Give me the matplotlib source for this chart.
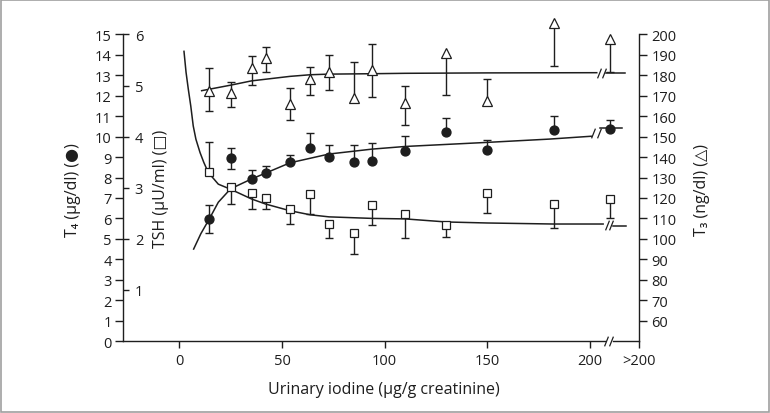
import numpy as np
import matplotlib
matplotlib.use('Agg')
import matplotlib.pyplot as plt
from matplotlib.patches import Rectangle

plt.rcParams['font.family'] = ['Open Sans', 'DejaVu Sans']
plt.rcParams['font.size'] = 10.5

INK = '#1e1e1e'

# urinary iodine groups (last group is ">200", placed after the axis break)
iodine = np.array([14.6, 25.0, 35.2, 42.1, 53.9, 63.8, 72.9, 85.2, 93.8, 110.0, 130.0, 149.7, 182.6, 209.5])

# T4 (ug/dl), filled circles
t4 = np.array([5.97, 8.94, 7.93, 8.22, 8.77, 9.44, 9.02, 8.77, 8.82, 9.31, 10.21, 9.36, 10.34, 10.37])
t4_lo = np.array([0.67, 0.52, 0, 0, 0, 0, 0, 0, 0, 0, 0, 0, 0, 0])
t4_hi = np.array([0.67, 0.49, 0.45, 0.33, 0.33, 0.72, 0.58, 0.83, 0.87, 0.70, 0.70, 0.47, 0.65, 0.46])

# TSH (uU/ml), open squares
tsh = np.array([3.30, 3.01, 2.89, 2.80, 2.58, 2.88, 2.30, 2.11, 2.67, 2.49, 2.28, 2.90, 2.69, 2.77])
tsh_lo = np.array([0, 0.33, 0.31, 0.22, 0.29, 0.39, 0.28, 0.41, 0.39, 0.47, 0.24, 0.40, 0.47, 0.37])
tsh_hi = np.array([0.59, 0, 0, 0, 0, 0, 0, 0, 0, 0, 0, 0, 0, 0])

# T3 (ng/dl), open triangles
t3 = np.array([172.5, 171.2, 183.6, 188.3, 166.0, 178.2, 181.8, 168.7, 182.7, 166.4, 190.9, 167.6, 205.4, 197.7])
t3_lo = np.array([10.1, 6.7, 8.2, 6.7, 7.9, 7.7, 9.0, 0, 13.5, 10.7, 20.7, 0, 20.7, 16.0])
t3_hi = np.array([11.2, 5.7, 6.0, 5.7, 7.8, 5.8, 8.0, 17.9, 12.6, 8.5, 0, 10.6, 0, 0])

# fitted curves
t4_fit_x = [7.0, 10.5, 14.6, 19.0, 25.0, 35.2, 42.1, 53.9, 72.9, 93.8, 110, 130, 150, 180, 200.5]
t4_fit_y = [4.50, 5.25, 5.97, 6.79, 7.45, 7.93, 8.22, 8.72, 9.15, 9.39, 9.52, 9.62, 9.72, 9.88, 10.02]
tsh_fit_x = [2.3, 3.3, 4.4, 5.6, 6.8, 8.1, 10.1, 11.9, 14.1, 19.0, 25.0, 35.2, 42.1, 53.9, 63.8,
             72.9, 93.8, 110, 130, 150, 182, 206.3]
tsh_fit_y = [5.67, 5.26, 4.93, 4.60, 4.21, 3.95, 3.69, 3.50, 3.30, 3.07, 2.97, 2.78, 2.68, 2.55, 2.47,
             2.43, 2.40, 2.39, 2.33, 2.31, 2.29, 2.29]
t3_fit_x = [10.9, 25.0, 35.2, 53.9, 63.8, 72.9, 93.8, 110, 150, 203.2]
t3_fit_y = [172.5, 175.2, 177.3, 179.5, 180.3, 180.6, 180.8, 181.0, 181.2, 181.3]

# short pieces of the curves after the break
t4_tail_x, t4_tail_y = [204.8, 215.5], [10.41, 10.41]
tsh_tail_x, tsh_tail_y = [211.1, 217.5], [2.25, 2.25]
t3_tail_x, t3_tail_y = [207.7, 217.0], [181.3, 181.3]

# break marks "//" (x positions of the two strokes)
xaxis_break = [207.9, 210.2]
t4_break = [201.5, 204.2]
tsh_break = [208.1, 210.1]
t3_break = [204.5, 206.8]

xticks = [0, 50, 100, 150, 200, 224]
xticklabels = ['0', '50', '100', '150', '200', '>200']

fig = plt.figure(figsize=(7.7, 4.14), dpi=100)
ax = fig.add_axes([0.1597, 0.1739, 0.6708, 0.7404])
ax_tsh = ax.twinx()
ax_t3 = ax.twinx()

ax.set_xlim(-27.4, 224)
ax.set_ylim(0, 15)
ax_tsh.set_ylim(0, 6)
ax_t3.set_ylim(50, 200)

for a in (ax, ax_tsh, ax_t3):
    a.patch.set_visible(False)
    for s in a.spines.values():
        s.set_visible(False)
        s.set_color(INK)
        s.set_linewidth(1.0)

ax.spines['left'].set_visible(True)
ax.spines['bottom'].set_visible(True)
ax.spines['bottom'].set_bounds(-27.4, 207.4)
ax_t3.spines['right'].set_visible(True)

ax.set_xticks(xticks)
ax.set_xticklabels(xticklabels)
ax.set_yticks(range(0, 16))
ax.tick_params(axis='x', direction='out', length=5, width=1, color=INK, pad=3.5, labelcolor=INK)
ax.tick_params(axis='y', direction='out', length=5.5, width=1, color=INK, pad=2.5, labelcolor=INK)

ax_tsh.yaxis.tick_left()
ax_tsh.set_yticks(range(1, 7))
ax_tsh.tick_params(axis='y', direction='in', length=4, width=1, color=INK, pad=-8.5, labelcolor=INK)
plt.setp(ax_tsh.get_yticklabels(), ha='left')

ax_t3.set_yticks(range(60, 201, 10))
ax_t3.tick_params(axis='y', direction='out', length=6, width=1, color=INK, pad=2.5, labelcolor=INK)

# second piece of the x axis after the break
ax.plot([211.2, 224], [0, 0], color=INK, lw=1.0, clip_on=False)

slash = [(-0.4, -1), (0.4, 1)]


def breaks(a, xs, y):
    a.plot(xs, [y] * len(xs), ls='none', marker=slash, ms=7, mew=0.9, color=INK, clip_on=False)


breaks(ax, xaxis_break, 0)

# curves
ax.plot(t4_fit_x, t4_fit_y, color=INK, lw=1.1)
ax.plot(t4_tail_x, t4_tail_y, color=INK, lw=1.1)
breaks(ax, t4_break, 10.2)
ax_tsh.plot(tsh_fit_x, tsh_fit_y, color=INK, lw=1.1)
ax_tsh.plot(tsh_tail_x, tsh_tail_y, color=INK, lw=1.1)
breaks(ax_tsh, tsh_break, 2.27)
ax_t3.plot(t3_fit_x, t3_fit_y, color=INK, lw=1.1)
ax_t3.plot(t3_tail_x, t3_tail_y, color=INK, lw=1.1)
breaks(ax_t3, t3_break, 181.3)


def error_bars(a, x, y, lo, hi):
    a.vlines(x, y - lo, y + hi, color=INK, lw=1.0, zorder=2, clip_on=False)
    up = hi > 0
    dn = lo > 0
    a.plot(x[up], (y + hi)[up], ls='none', marker='_', ms=6, mew=1.0, color=INK, zorder=2, clip_on=False)
    a.plot(x[dn], (y - lo)[dn], ls='none', marker='_', ms=6, mew=1.0, color=INK, zorder=2, clip_on=False)


error_bars(ax, iodine, t4, t4_lo, t4_hi)
error_bars(ax_tsh, iodine, tsh, tsh_lo, tsh_hi)
error_bars(ax_t3, iodine, t3, t3_lo, t3_hi)

ax.plot(iodine, t4, ls='none', marker='o', ms=6.4, mfc=INK, mec=INK, zorder=3, clip_on=False)
ax_tsh.plot(iodine, tsh, ls='none', marker='s', ms=5.9, mfc='white', mec=INK, mew=0.9, zorder=3, clip_on=False)
ax_t3.plot(iodine, t3, ls='none', marker='^', ms=7.0, mfc='white', mec=INK, mew=0.9, zorder=3, clip_on=False)

# axis titles
fig.text(0.0948, 0.541, 'T\u2084 (\u00b5g/dl) (\u25cf)', rotation=90, ha='center', va='center', color=INK, fontsize=11.5)
fig.text(0.2095, 0.543, 'TSH (\u00b5U/ml) (\u25a1)', rotation=90, ha='center', va='center', color=INK, fontsize=11.5)
fig.text(0.9117, 0.541, 'T\u2083 (ng/dl) (\u25b3)', rotation=90, ha='center', va='center', color=INK, fontsize=11.5)
fig.text(0.4985, 0.058, 'Urinary iodine (\u00b5g/g creatinine)', ha='center', va='center', color=INK, fontsize=11.5)

fig.patches.append(Rectangle((0.001, 0.002), 0.998, 0.996, transform=fig.transFigure,
                             fill=False, edgecolor='#a0a0a0', lw=1.2))

fig.savefig('out.png', dpi=100)
